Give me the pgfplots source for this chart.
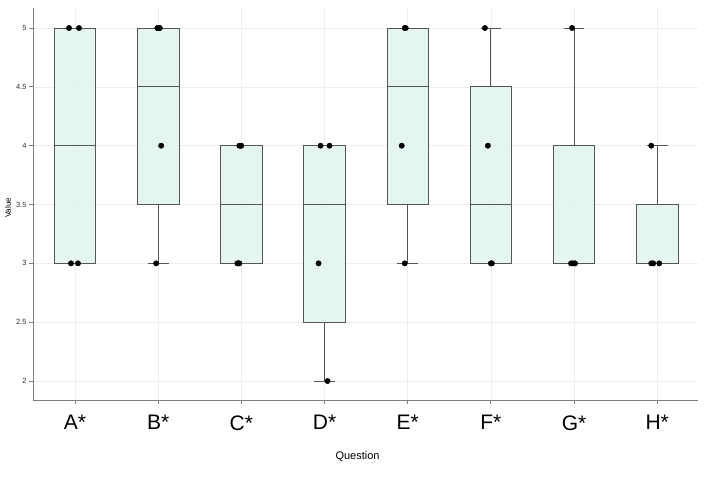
\documentclass[border=0pt]{standalone}
\usepackage{fontspec}
\setmainfont{Liberation Sans}
\usepackage{pgfplots}
\pgfplotsset{compat=1.18}
\usepgfplotslibrary{statistics}
\definecolor{boxfill}{HTML}{DFF3EC}
\definecolor{boxline}{HTML}{555555}
\definecolor{gridc}{HTML}{EEEEEE}
\definecolor{axc}{HTML}{7F7F7F}
\begin{document}
\begin{tikzpicture}[x=1pt,y=1pt]
\useasboundingbox (-33,-76) rectangle (675,400);
\begin{axis}[
  at={(0,0)}, anchor=south west,
  scale only axis, width=665pt, height=392pt,
  xmin=0.495, xmax=8.49, ymin=1.839, ymax=5.17,
  axis x line*=bottom, axis y line*=left,
  axis line style={axc, line width=0.9pt},
  tick align=outside, major tick length=4pt,
  tick style={axc, line width=0.8pt},
  xtick={1,2,3,4,5,6,7,8},
  xticklabels={A*,B*,C*,D*,E*,F*,G*,H*},
  ytick={2,2.5,3,3.5,4,4.5,5},
  /pgf/number format/assume math mode=true,
  grid=major, major grid style={gridc, line width=0.6pt},
  xticklabel style={font=\fontsize{21}{24}\selectfont, text=black, yshift=-8pt},
  yticklabel style={font=\fontsize{7.5}{9}\selectfont, text=black!80, xshift=1pt},
  xlabel={Question}, ylabel={Value},
  xlabel style={font=\fontsize{11}{13}\selectfont, at={(axis description cs:0.488,0)}, anchor=center, yshift=-57pt},
  ylabel style={font=\fontsize{8}{10}\selectfont, at={(axis description cs:0,0.49)}, anchor=center, yshift=25pt},
  boxplot/draw direction=y,
]
\addplot[boxplot prepared={draw position=1, lower whisker=3, lower quartile=3, median=4, upper quartile=5, upper whisker=5, box extend=0.5, whisker extend=0.25}, draw=boxline, fill=boxfill, fill opacity=0.8, line width=0.8pt] coordinates {};
\addplot[boxplot prepared={draw position=2, lower whisker=3, lower quartile=3.5, median=4.5, upper quartile=5, upper whisker=5, box extend=0.5, whisker extend=0.25}, draw=boxline, fill=boxfill, fill opacity=0.8, line width=0.8pt] coordinates {};
\addplot[boxplot prepared={draw position=3, lower whisker=3, lower quartile=3, median=3.5, upper quartile=4, upper whisker=4, box extend=0.5, whisker extend=0.25}, draw=boxline, fill=boxfill, fill opacity=0.8, line width=0.8pt] coordinates {};
\addplot[boxplot prepared={draw position=4, lower whisker=2, lower quartile=2.5, median=3.5, upper quartile=4, upper whisker=4, box extend=0.5, whisker extend=0.25}, draw=boxline, fill=boxfill, fill opacity=0.8, line width=0.8pt] coordinates {};
\addplot[boxplot prepared={draw position=5, lower whisker=3, lower quartile=3.5, median=4.5, upper quartile=5, upper whisker=5, box extend=0.5, whisker extend=0.25}, draw=boxline, fill=boxfill, fill opacity=0.8, line width=0.8pt] coordinates {};
\addplot[boxplot prepared={draw position=6, lower whisker=3, lower quartile=3, median=3.5, upper quartile=4.5, upper whisker=5, box extend=0.5, whisker extend=0.25}, draw=boxline, fill=boxfill, fill opacity=0.8, line width=0.8pt] coordinates {};
\addplot[boxplot prepared={draw position=7, lower whisker=3, lower quartile=3, median=3, upper quartile=4, upper whisker=5, box extend=0.5, whisker extend=0.25}, draw=boxline, fill=boxfill, fill opacity=0.8, line width=0.8pt] coordinates {};
\addplot[boxplot prepared={draw position=8, lower whisker=3, lower quartile=3, median=3, upper quartile=3.5, upper whisker=4, box extend=0.5, whisker extend=0.25}, draw=boxline, fill=boxfill, fill opacity=0.8, line width=0.8pt] coordinates {};
\addplot[only marks, mark=*, mark size=2.7pt, black] coordinates {
 (0.928,5) (1.048,5) (0.952,3) (1.036,3)
 (1.99,5) (2.0,5) (2.01,5) (2.02,5) (2.036,4) (1.976,3)
 (2.976,4) (2.988,4) (3.0,4) (2.952,3) (2.964,3) (2.976,3)
 (3.952,4) (4.06,4) (3.928,3) (4.036,2)
 (4.964,5) (4.976,5) (4.928,4) (4.964,3)
 (5.928,5) (5.964,4) (6.0,3) (6.012,3)
 (6.976,5) (6.964,3) (6.988,3) (7.012,3)
 (7.928,4) (7.928,3) (7.952,3) (8.024,3)
};
\end{axis}
\end{tikzpicture}
\end{document}
